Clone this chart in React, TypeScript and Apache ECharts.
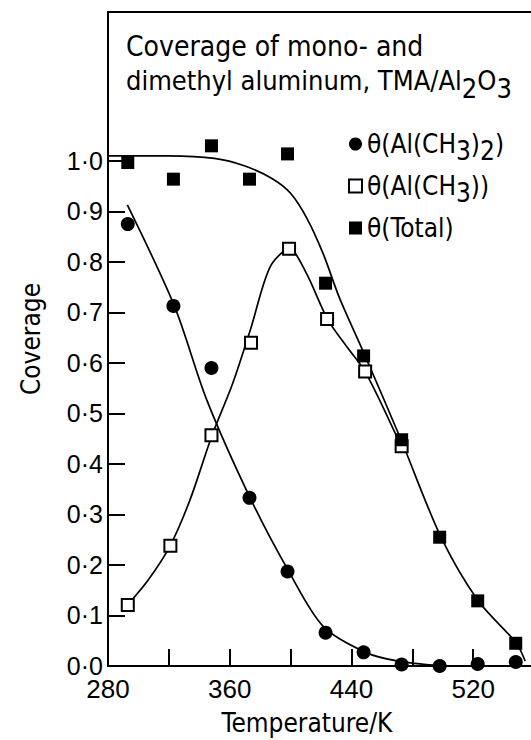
import React, { useEffect, useRef } from "react";
import * as echarts from "echarts";

// ---- data ----
const tempK = [293, 323, 348, 373, 398, 423, 448, 473, 498, 523, 548];
const dimethylCov = [0.875, 0.713, 0.59, 0.333, 0.187, 0.066, 0.027, 0.003, 0.0, 0.004, 0.008];
const monoT = [293, 321, 348, 374, 399, 424, 449, 473];
const monoCov = [0.121, 0.238, 0.457, 0.64, 0.826, 0.687, 0.583, 0.435];
const totalCov = [0.997, 0.964, 1.03, 0.964, 1.014, 0.758, 0.614, 0.448, 0.255, 0.129, 0.045];

// hand-drawn fitted curves (traced points)
const dimethylCurveT = [292.7, 323.6, 344.9, 373.4, 398.9, 421.6, 449.3, 470, 498.3];
const dimethylCurveV = [0.913, 0.713, 0.527, 0.333, 0.187, 0.078, 0.027, 0.01, 0.0];

const monoCurveT = [289.9, 306.3, 320.8, 333.9, 348.4, 362, 374, 386.5, 399.2, 410, 424.3, 437, 449, 469.8];
const monoCurveV = [0.111, 0.17, 0.238, 0.329, 0.457, 0.56, 0.67, 0.79, 0.826, 0.78, 0.687, 0.632, 0.583, 0.454];

const totalCurveT = [280, 320, 350, 370, 388, 400, 411, 421.6, 432, 449, 472.6, 498.9, 523.3, 548.2, 554.2];
const totalCurveV = [1.01, 1.01, 1.005, 0.99, 0.965, 0.936, 0.885, 0.815, 0.73, 0.614, 0.448, 0.255, 0.129, 0.046, 0.01];

const yTicks = [0, 0.1, 0.2, 0.3, 0.4, 0.5, 0.6, 0.7, 0.8, 0.9, 1.0];
const xLabels = [280, 360, 440, 520];

const seriesNames = ["θ(Al(CH3)2)", "θ(Al(CH3))", "θ(Total)"];
const titleLine1 = "Coverage of mono- and";

const NUM_FONT = '"Liberation Sans", Arial, sans-serif';
const TXT_FONT = '"DejaVu Sans Condensed", "DejaVu Sans", sans-serif';

const zip = (a: number[], b: number[]) => a.map((v, i) => [v, b[i]]).filter((p) => p[1] !== undefined);

export default function App() {
  const ref = useRef<HTMLDivElement>(null);
  useEffect(() => {
    if (!ref.current) return;
    const chart = echarts.init(ref.current, null, { renderer: "svg" });
    const tStyle = { fontFamily: TXT_FONT, fontSize: 26, color: "#000", lineHeight: 40 };
    const sStyle = { fontFamily: TXT_FONT, fontSize: 26, color: "#000", lineHeight: 40, padding: [14, 0, 0, 0] };
    const legendRich: Record<string, string> = {
      "θ(Al(CH3)2)": "{t|θ(Al(CH}{s|3}{t|)}{s|2}{t|)}",
      "θ(Al(CH3))": "{t|θ(Al(CH}{s|3}{t|))}",
      "θ(Total)": "{t|θ(Total)}{s| }",
    };
    const lineBase = {
      type: "line" as const,
      showSymbol: false,
      symbol: "none",
      smooth: 0.3,
      lineStyle: { color: "#000", width: 1.7 },
      silent: true,
      z: 2,
    };
    chart.setOption({
      animation: false,
      backgroundColor: "#fff",
      grid: {
        left: 108,
        top: 12,
        width: 426,
        height: 654,
        outerBoundsMode: "none",
        containLabel: false,
        show: true,
        borderColor: "#000",
        borderWidth: 2,
        backgroundColor: "transparent",
      },
      xAxis: {
        type: "value",
        min: 280,
        max: 560,
        interval: 40,
        splitLine: { show: false },
        axisLine: { lineStyle: { color: "#000", width: 2 } },
        axisTick: { inside: true, length: 17, lineStyle: { color: "#000", width: 2 } },
        axisLabel: {
          customValues: xLabels,
          color: "#000",
          fontFamily: NUM_FONT,
          fontSize: 26,
          lineHeight: 22,
          margin: 12,
        },
        name: "Temperature/K",
        nameLocation: "middle",
        nameGap: 44,
        nameTextStyle: { fontFamily: TXT_FONT, fontSize: 26, lineHeight: 26, color: "#000", padding: [0, 28, 0, 0] },
      },
      yAxis: {
        type: "value",
        min: 0,
        max: 1.295,
        splitLine: { show: false },
        axisLine: { lineStyle: { color: "#000", width: 2 } },
        axisTick: { inside: true, length: 17, customValues: yTicks, lineStyle: { color: "#000", width: 2 } },
        axisLabel: {
          customValues: yTicks,
          formatter: (v: number) => v.toFixed(1).replace(".", "·"),
          color: "#000",
          fontFamily: NUM_FONT,
          fontSize: 25,
          lineHeight: 20,
          margin: 5,
        },
        name: "Coverage",
        nameLocation: "middle",
        nameGap: 64,
        nameTextStyle: { fontFamily: TXT_FONT, fontSize: 26, color: "#000" },
      },
      legend: {
        data: seriesNames,
        orient: "vertical",
        left: 348,
        top: 124,
        padding: 0,
        itemGap: 2,
        itemWidth: 13,
        itemHeight: 13,
        formatter: (name: string) => legendRich[name] || name,
        textStyle: { rich: { t: tStyle, s: sStyle } },
      },
      graphic: [
        {
          type: "text",
          left: 126,
          top: 32,
          style: { text: titleLine1, font: `28px ${TXT_FONT}`, fill: "#000" },
        },
        {
          type: "text",
          left: 126,
          top: 58,
          style: {
            text: "{t|dimethyl aluminum, TMA/Al}{s|2}{t|O}{s|3}",
            rich: {
              t: { fontFamily: TXT_FONT, fontSize: 27, fill: "#000", lineHeight: 44 },
              s: { fontFamily: TXT_FONT, fontSize: 27, fill: "#000", lineHeight: 44, padding: [17, 0, 0, 0] },
            },
          },
        },
      ],
      series: [
        { ...lineBase, name: "fit-dimethyl", data: zip(dimethylCurveT, dimethylCurveV) },
        { ...lineBase, name: "fit-mono", data: zip(monoCurveT, monoCurveV) },
        { ...lineBase, name: "fit-total", data: zip(totalCurveT, totalCurveV) },
        {
          type: "scatter",
          name: seriesNames[0],
          symbol: "circle",
          symbolSize: 14,
          itemStyle: { color: "#000", opacity: 1 },
          data: zip(tempK, dimethylCov),
          z: 5,
        },
        {
          type: "scatter",
          name: seriesNames[1],
          symbol: "rect",
          symbolSize: 12,
          itemStyle: { color: "#fff", borderColor: "#000", borderWidth: 2, opacity: 1 },
          data: zip(monoT, monoCov),
          z: 5,
        },
        {
          type: "scatter",
          name: seriesNames[2],
          symbol: "rect",
          symbolSize: 13,
          itemStyle: { color: "#000", opacity: 1 },
          data: zip(tempK, totalCov),
          z: 6,
        },
      ],
    });
    return () => chart.dispose();
  }, []);
  return <div ref={ref} style={{ position: "absolute", left: 0, top: 0, width: 531, height: 740 }} />;
}
